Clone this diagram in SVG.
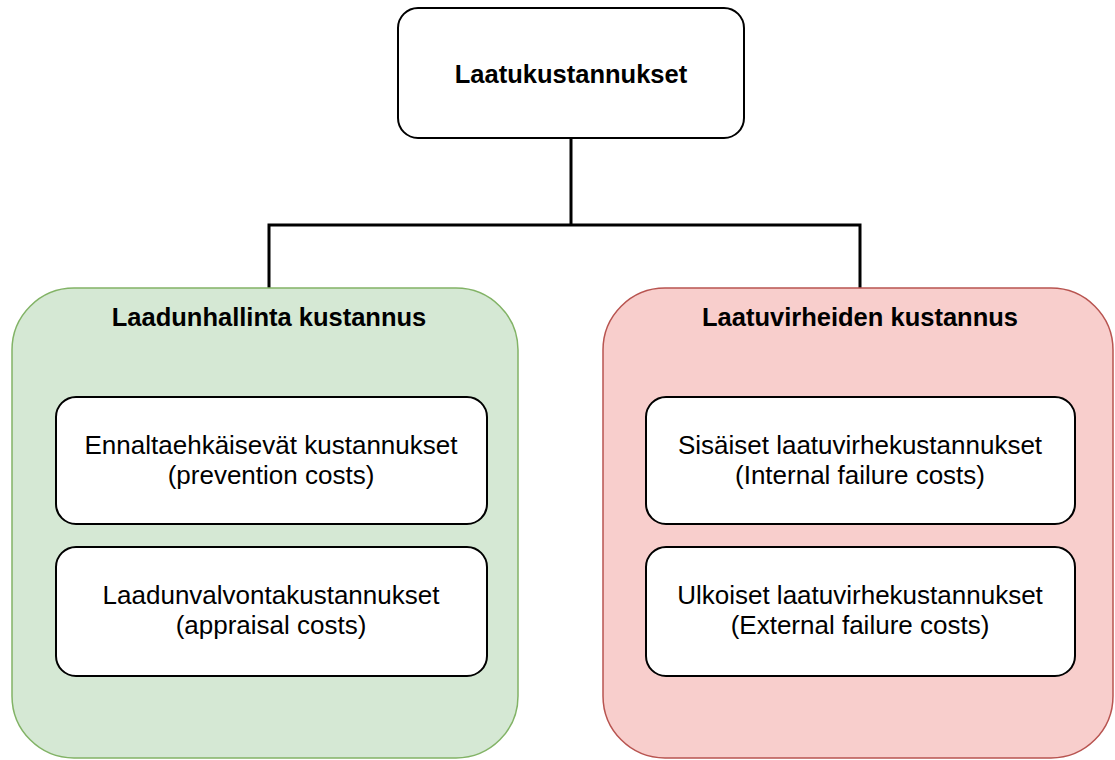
<svg xmlns="http://www.w3.org/2000/svg" width="1115" height="760" viewBox="0 0 1115 760">
<style>
text{font-family:"Liberation Sans",Arial,sans-serif;font-size:26px;fill:#000;text-anchor:middle}
.b{font-weight:bold;font-size:25.5px}
.box{fill:#fff;stroke:#000;stroke-width:2}
.conn{fill:none;stroke:#000;stroke-width:3}
</style>
<rect width="1115" height="760" fill="#fff"/>
<g id="connectors">
<path class="conn" d="M571 138 V225"/>
<path class="conn" d="M269 288 V225 H860 V288"/>
</g>
<g id="root">
<rect class="box" x="398" y="8" width="346" height="130" rx="20"/>
<text class="b" x="571" y="83">Laatukustannukset</text>
</g>
<g id="group-left">
<rect x="12" y="288" width="506" height="470" rx="62" fill="#d5e8d4" stroke="#82b366" stroke-width="1.5"/>
<text class="b" x="269" y="326">Laadunhallinta kustannus</text>
</g>
<g id="group-right">
<rect x="603" y="288" width="510" height="470" rx="62" fill="#f8cecc" stroke="#b85450" stroke-width="1.5"/>
<text class="b" x="860" y="326">Laatuvirheiden kustannus</text>
</g>
<g id="prevention">
<rect class="box" x="56" y="397" width="431" height="127" rx="20"/>
<text x="271" y="454">Ennaltaehkäisevät kustannukset</text>
<text x="271" y="484">(prevention costs)</text>
</g>
<g id="appraisal">
<rect class="box" x="56" y="547" width="431" height="129" rx="20"/>
<text x="271" y="604">Laadunvalvontakustannukset</text>
<text x="271" y="634">(appraisal costs)</text>
</g>
<g id="internal">
<rect class="box" x="646" y="397" width="429" height="127" rx="20"/>
<text x="860" y="454">Sisäiset laatuvirhekustannukset</text>
<text x="860" y="484">(Internal failure costs)</text>
</g>
<g id="external">
<rect class="box" x="646" y="547" width="429" height="129" rx="20"/>
<text x="860" y="604">Ulkoiset laatuvirhekustannukset</text>
<text x="860" y="634">(External failure costs)</text>
</g>
</svg>
